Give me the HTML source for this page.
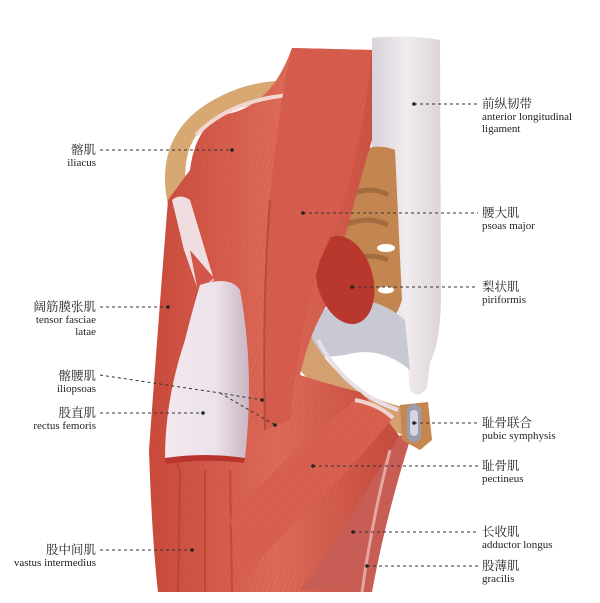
<!DOCTYPE html>
<html><head><meta charset="utf-8"><style>
html,body{margin:0;padding:0;background:#fff;}
body{width:600px;height:603px;position:relative;overflow:hidden;font-family:"Liberation Serif","Noto Serif CJK SC",serif;}
.l{position:absolute;color:#222;line-height:12px;}
.c{font-size:12.5px;line-height:14px;}
.e{font-size:11px;}
.r{text-align:right;}
</style></head><body>
<svg width="600" height="603" style="position:absolute;left:0;top:0">
<defs>
<linearGradient id="lig" x1="0" x2="1"><stop offset="0" stop-color="#d9d2da"/><stop offset=".5" stop-color="#f1ecef"/><stop offset="1" stop-color="#ddd4d6"/></linearGradient>
<linearGradient id="red" x1="0" x2="1"><stop offset="0" stop-color="#c94a3a"/><stop offset=".5" stop-color="#dd6a58"/><stop offset="1" stop-color="#c44a3c"/></linearGradient>
<linearGradient id="wt" x1="0" x2="1"><stop offset="0" stop-color="#f2e8ee"/><stop offset=".6" stop-color="#ece2ea"/><stop offset="1" stop-color="#c9b6c2"/></linearGradient>
<pattern id="fib" width="5" height="5" patternUnits="userSpaceOnUse" patternTransform="rotate(20)"><rect width="5" height="5" fill="none"/><line x1="0" y1="0" x2="0" y2="5" stroke="#a8342a" stroke-opacity=".18" stroke-width="1.2"/></pattern>
</defs>
<!-- ligament -->
<path d="M372,38 Q405,34 440,40 L441,300 Q440,345 430,362 L427,388 Q418,400 410,390 L408,368 Q402,330 395,300 L372,150 Z" fill="url(#lig)"/>
<!-- sacrum bone -->
<path d="M345,160 Q370,140 395,150 L402,300 Q392,330 370,345 L335,330 Q320,250 345,160 Z" fill="#c48650"/>
<path d="M350,195 Q370,185 388,195 M345,225 Q368,215 388,225 M350,260 Q370,252 388,260" stroke="#8e5a32" stroke-width="5" fill="none" opacity=".6"/>
<ellipse cx="386" cy="248" rx="9" ry="4" fill="#fff"/>
<ellipse cx="386" cy="290" rx="8" ry="3.5" fill="#fff"/>
<!-- grey ligament -->
<path d="M330,305 Q370,290 405,320 L410,370 Q380,345 345,355 L300,360 Q310,320 330,305 Z" fill="#c9c9d4"/>
<!-- iliac crest -->
<path d="M168,205 Q150,120 240,88 Q270,78 300,82 L300,100 Q240,100 205,125 Q178,150 188,200 Z" fill="#d8a873"/>
<!-- pubic ramus -->
<path d="M310,335 Q340,390 395,405 L420,410 L418,440 L395,432 Q340,420 300,370 Z" fill="#d4a070"/>
<path d="M318,340 Q345,392 398,410" stroke="#e6e0e6" stroke-width="4" fill="none"/>
<!-- red base -->
<path d="M168,200 Q160,300 149,450 Q152,540 158,592 L372,592 Q380,530 405,445 Q390,420 360,392 Q330,385 300,375 Q310,330 330,300 Q340,250 372,140 L372,50 L292,48 Q270,110 220,115 Q195,130 190,170 Z" fill="url(#red)"/>
<path d="M168,200 Q160,300 149,450 Q152,540 158,592 L372,592 Q380,530 405,445 Q390,420 360,392 Q330,385 300,375 Q310,330 330,300 Q340,250 372,140 L372,50 L292,48 Q270,110 220,115 Q195,130 190,170 Z" fill="url(#fib)"/>
<!-- iliacus edge highlight -->
<path d="M196,135 Q230,100 290,95" stroke="#f3d6d0" stroke-width="4" fill="none"/>
<!-- piriformis -->
<ellipse cx="345" cy="280" rx="28" ry="45" fill="#b9382e" transform="rotate(-15 345 280)"/>
<!-- psoas -->
<path d="M292,48 L372,50 Q360,180 320,260 Q300,330 290,420 L265,430 Q262,300 270,200 Q278,110 292,48 Z" fill="#d65d4c"/>
<path d="M292,48 L372,50 Q360,180 320,260 Q300,330 290,420 L265,430 Q262,300 270,200 Q278,110 292,48 Z" fill="url(#fib)"/>
<path d="M270,200 Q262,300 265,430" stroke="#a83a2e" stroke-width="2" fill="none" opacity=".6"/>
<!-- TFL separation -->
<path d="M198,290 Q180,380 178,470" stroke="#a83a2e" stroke-width="2" fill="none" opacity=".5"/>
<!-- upper rectus tendon -->
<path d="M172,200 Q180,193 190,200 L214,280 L198,290 L184,250 Z" fill="#f0dde0"/>
<path d="M190,250 L214,278 L198,292 Z" fill="#d2574a"/>
<!-- rectus femoris white -->
<path d="M200,285 Q230,275 240,290 Q255,370 245,458 Q210,462 165,458 Q165,400 185,340 Q195,300 200,285 Z" fill="url(#wt)"/>
<path d="M165,458 Q205,452 245,458 L244,463 Q205,458 166,464 Z" fill="#b8342c"/>
<!-- vastus lines -->
<path d="M180,470 L178,592 M205,470 L205,592 M230,470 L232,592" stroke="#a83a2e" stroke-width="2" opacity=".5"/>
<!-- pectineus -->
<path d="M230,520 Q290,450 355,400 Q380,405 393,418 Q350,470 300,520 Q260,555 245,580 Z" fill="#d8604e"/>
<path d="M230,520 Q290,450 355,400 Q380,405 393,418 Q350,470 300,520 Q260,555 245,580 Z" fill="url(#fib)"/>
<path d="M355,400 Q378,404 393,418" stroke="#f1d2cc" stroke-width="4" fill="none"/>
<!-- adductor longus / gracilis -->
<path d="M300,590 Q350,520 400,435 L410,440 Q385,520 372,592 Z" fill="#c85d56"/>
<path d="M390,450 Q372,520 362,592" stroke="#e6a6a0" stroke-width="3" fill="none"/>
<!-- pubic symphysis -->
<path d="M400,405 L428,402 L432,440 L420,450 L402,440 Z" fill="#c6864f"/>
<rect x="407" y="404" width="14" height="38" rx="7" fill="#9c9cb0"/>
<rect x="410" y="410" width="8" height="26" rx="4" fill="#d6d6e2"/>
<!-- leader lines -->
<g stroke="#333" stroke-width="1" stroke-dasharray="3,3" fill="none">
<line x1="100" y1="150" x2="232" y2="150"/>
<line x1="100" y1="307" x2="168" y2="307"/>
<path d="M100,375 L220,393 L262,400"/>
<path d="M220,393 L275,425"/>
<line x1="100" y1="413" x2="203" y2="413"/>
<line x1="100" y1="550" x2="192" y2="550"/>
<line x1="414" y1="104" x2="478" y2="104"/>
<line x1="303" y1="213" x2="478" y2="213"/>
<line x1="352" y1="287" x2="478" y2="287"/>
<line x1="414" y1="423" x2="478" y2="423"/>
<line x1="313" y1="466" x2="478" y2="466"/>
<line x1="353" y1="532" x2="478" y2="532"/>
<line x1="367" y1="566" x2="478" y2="566"/>
</g>
<g fill="#222">
<circle cx="232" cy="150" r="1.8"/><circle cx="168" cy="307" r="1.8"/><circle cx="262" cy="400" r="1.8"/><circle cx="275" cy="425" r="1.8"/><circle cx="203" cy="413" r="1.8"/><circle cx="192" cy="550" r="1.8"/>
<circle cx="414" cy="104" r="1.8"/><circle cx="303" cy="213" r="1.8"/><circle cx="352" cy="287" r="1.8"/><circle cx="414" cy="423" r="1.8"/><circle cx="313" cy="466" r="1.8"/><circle cx="353" cy="532" r="1.8"/><circle cx="367" cy="566" r="1.8"/>
</g>
</svg>
<div class="l r" style="right:504px;top:143px"><div class="c">髂肌</div><div class="e">iliacus</div></div>
<div class="l r" style="right:504px;top:300px"><div class="c">阔筋膜张肌</div><div class="e">tensor fasciae<br>latae</div></div>
<div class="l r" style="right:504px;top:369px"><div class="c">髂腰肌</div><div class="e">iliopsoas</div></div>
<div class="l r" style="right:504px;top:406px"><div class="c">股直肌</div><div class="e">rectus femoris</div></div>
<div class="l r" style="right:504px;top:543px"><div class="c">股中间肌</div><div class="e">vastus intermedius</div></div>
<div class="l" style="left:482px;top:97px"><div class="c">前纵韧带</div><div class="e">anterior longitudinal<br>ligament</div></div>
<div class="l" style="left:482px;top:206px"><div class="c">腰大肌</div><div class="e">psoas major</div></div>
<div class="l" style="left:482px;top:280px"><div class="c">梨状肌</div><div class="e">piriformis</div></div>
<div class="l" style="left:482px;top:416px"><div class="c">耻骨联合</div><div class="e">pubic symphysis</div></div>
<div class="l" style="left:482px;top:459px"><div class="c">耻骨肌</div><div class="e">pectineus</div></div>
<div class="l" style="left:482px;top:525px"><div class="c">长收肌</div><div class="e">adductor longus</div></div>
<div class="l" style="left:482px;top:559px"><div class="c">股薄肌</div><div class="e">gracilis</div></div>
</body></html>
